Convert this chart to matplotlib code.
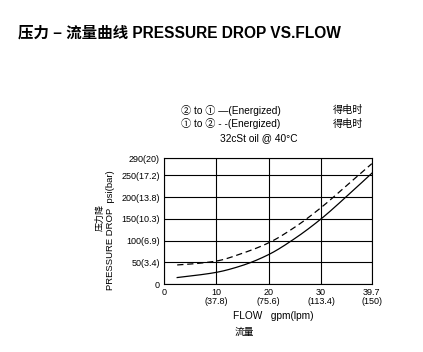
import numpy as np
import matplotlib
matplotlib.use("Agg")
import matplotlib.pyplot as plt

plt.rcParams['font.family'] = ['Liberation Sans', 'Noto Sans CJK SC', 'DejaVu Sans']

# flow in gpm, pressure drop in psi
flow_solid = [2.5, 5, 10, 15, 20, 25, 30, 35, 39.7]
psi_solid = [15, 18.5, 27, 43, 68, 105, 150, 203, 255]
flow_dash = [2.5, 5, 10, 15, 20, 25, 30, 35, 39.7]
psi_dash = [44, 46, 53, 71, 95, 131, 176, 228, 277]

x_ticks = [0, 10, 20, 30, 39.7]
x_labels = ['0', '10\n(37.8)', '20\n(75.6)', '30\n(113.4)', '39.7\n(150)']
y_ticks = [0, 50, 100, 150, 200, 250, 290]
y_labels = ['0', '50(3.4)', '100(6.9)', '150(10.3)', '200(13.8)', '250(17.2)', '290(20)']


def pchip(xs, ys, n=300):
    # monotone cubic through the read points
    x = np.asarray(xs, float)
    y = np.asarray(ys, float)
    h = np.diff(x)
    d = np.diff(y) / h
    m = np.zeros_like(y)
    for i in range(1, len(x) - 1):
        if d[i - 1] * d[i] > 0:
            w1 = 2 * h[i] + h[i - 1]
            w2 = h[i] + 2 * h[i - 1]
            m[i] = (w1 + w2) / (w1 / d[i - 1] + w2 / d[i])
    m[0] = d[0]
    m[-1] = d[-1]
    xx = np.linspace(x[0], x[-1], n)
    k = np.clip(np.searchsorted(x, xx) - 1, 0, len(x) - 2)
    t = (xx - x[k]) / h[k]
    h00 = 2 * t**3 - 3 * t**2 + 1
    h10 = t**3 - 2 * t**2 + t
    h01 = -2 * t**3 + 3 * t**2
    h11 = t**3 - t**2
    yy = h00 * y[k] + h10 * h[k] * m[k] + h01 * y[k + 1] + h11 * h[k] * m[k + 1]
    return xx, yy


fig = plt.figure(figsize=(4.23, 3.52), dpi=100)
ax = fig.add_axes([0.388, 0.193, 0.491, 0.358])

xs, ys = pchip(flow_solid, psi_solid)
ax.plot(xs, ys, color='black', lw=0.9)
xd, yd = pchip(flow_dash, psi_dash)
ax.plot(xd, yd, color='black', lw=0.9, dashes=(5, 3))

ax.set_xlim(0, 39.7)
ax.set_ylim(0, 290)
ax.set_xticks(x_ticks)
ax.set_xticklabels(x_labels, fontsize=6.5, linespacing=1.0)
ax.set_yticks(y_ticks)
ax.set_yticklabels(y_labels, fontsize=6.5)
ax.tick_params(length=0, pad=3)
ax.grid(True, color='black', lw=0.8)
for s in ax.spines.values():
    s.set_linewidth(0.8)

fig.text(0.043, 0.905, '压力 – 流量曲线 PRESSURE DROP VS.FLOW',
         fontsize=11.2, fontweight='bold', va='center', ha='left')

fig.text(0.428, 0.687, '② to ① —(Energized)', fontsize=7.3, va='center')
fig.text(0.428, 0.648, '① to ② - -(Energized)', fontsize=7.3, va='center')
fig.text(0.787, 0.687, '得电时', fontsize=7.3, va='center')
fig.text(0.787, 0.648, '得电时', fontsize=7.3, va='center')
fig.text(0.520, 0.609, '32cSt oil @ 40°C', fontsize=7.3, va='center')

fig.text(0.262, 0.347, 'PRESSURE DROP  psi(bar)', fontsize=6.8, rotation=90,
         ha='center', va='center')
fig.text(0.236, 0.383, '压力降', fontsize=6.5, rotation=90,
         ha='center', va='center')
fig.text(0.645, 0.102, 'FLOW   gpm(lpm)', fontsize=7.3, ha='center', va='center')
fig.text(0.577, 0.058, '流量', fontsize=7, ha='center', va='center')

fig.savefig('out.png', dpi=100)
